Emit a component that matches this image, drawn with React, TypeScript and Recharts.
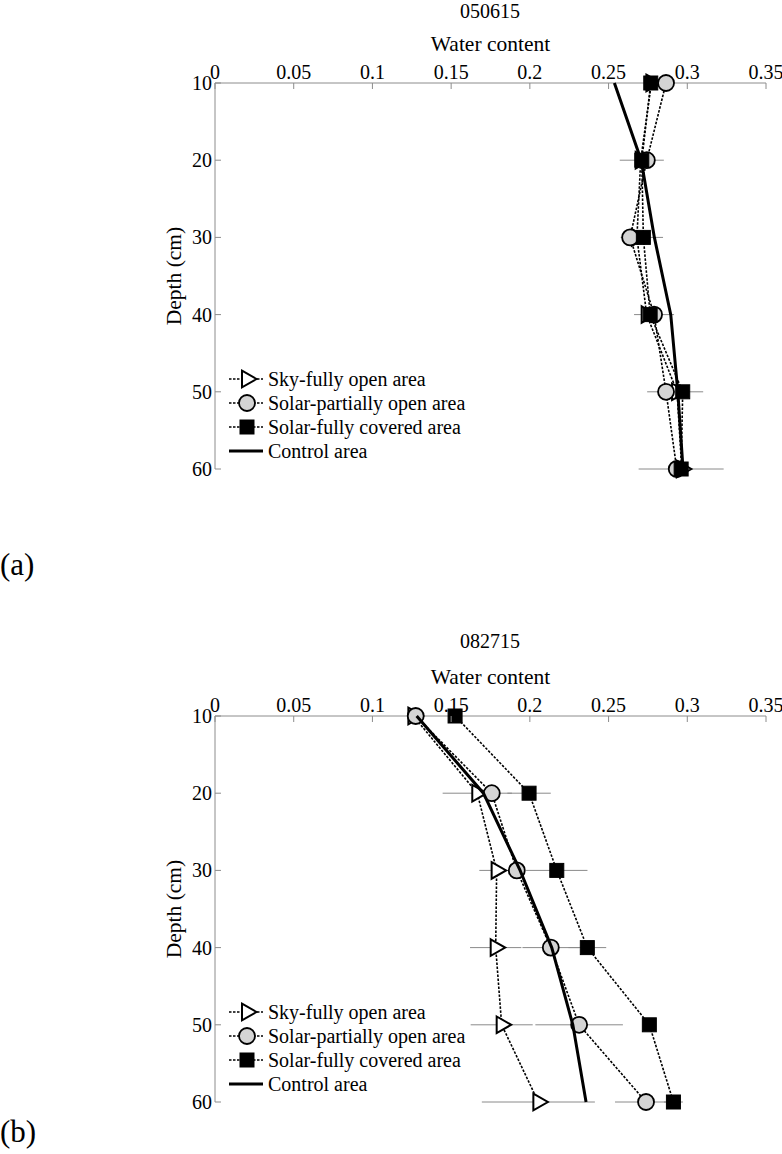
import React from 'react';
import { ScatterChart, Scatter, XAxis, YAxis, ErrorBar, Legend } from 'recharts';

const FONT = '"Liberation Serif", "Times New Roman", serif';
const AXIS_GRAY = '#8c8c8c';
const ERR_GRAY = '#8a8a8a';
const DASH = '2.5 1.5';

// Categories / ticks
const depths = [10, 20, 30, 40, 50, 60];
const xTicks = [0, 0.05, 0.1, 0.15, 0.2, 0.25, 0.3, 0.35];
const xTickLabels = ['0', '0.05', '0.1', '0.15', '0.2', '0.25', '0.3', '0.35'];
const yTicks = [10, 20, 30, 40, 50, 60];
const yTickLabels = ['10', '20', '30', '40', '50', '60'];

// Panel (a) 050615
const skyA = [0.2772, 0.2704, 0.268, 0.2742, 0.2935, 0.2965];
const skyErrA = [0, 0, 0, 0, 0, 0];
const partA = [0.2865, 0.2743, 0.2637, 0.2789, 0.2865, 0.2933];
const partErrA = [0, 0, 0.006, 0.0127, 0.012, 0];
const coverA = [0.2768, 0.2711, 0.2721, 0.2764, 0.2971, 0.2961];
const coverErrA = [0, 0.014, 0.0125, 0, 0.013, 0.027];
const controlA = [0.2537, 0.2707, 0.2791, 0.2895, 0.294, 0.2973];

// Panel (b) 082715
const skyB = [0.126, 0.1666, 0.1789, 0.1783, 0.1821, 0.2054];
const skyErrB = [0, 0.022, 0.011, 0.0163, 0.0197, 0.0359];
const partB = [0.1275, 0.1758, 0.1917, 0.2133, 0.2313, 0.2738];
const partErrB = [0, 0, 0, 0.018, 0.0278, 0.0197];
const coverB = [0.1525, 0.1995, 0.2171, 0.2365, 0.2759, 0.2912];
const coverErrB = [0, 0.0138, 0.0195, 0.012, 0, 0.006];
const controlB = [0.1281, 0.1705, 0.1938, 0.2139, 0.2273, 0.2357];

const legendLabels = [
  'Sky-fully open area',
  'Solar-partially open area',
  'Solar-fully covered area',
  'Control area',
];

function makeData(vals: number[], errs?: number[]) {
  return depths.map((d, i) => ({ d, v: vals[i], e: errs ? errs[i] : 0 }));
}

const TriangleShape = (p: any) => {
  const { cx, cy } = p;
  if (cx == null || cy == null) return <g />;
  const pts = `${cx - 5},${cy - 8.3} ${cx + 9.5},${cy} ${cx - 5},${cy + 8.3}`;
  return <polygon points={pts} fill="#fff" stroke="#000" strokeWidth={2} />;
};

const CircleShape = (p: any) => {
  const { cx, cy } = p;
  if (cx == null || cy == null) return <g />;
  return <circle cx={cx} cy={cy} r={8} fill="#d4d4d4" stroke="#000" strokeWidth={1.8} />;
};

const SquareShape = (p: any) => {
  const { cx, cy } = p;
  if (cx == null || cy == null) return <g />;
  return <rect x={cx - 7} y={cy - 7} width={14} height={14} fill="#000" stroke="#000" strokeWidth={1} />;
};

const EmptyShape = () => <g />;

const XTick = (props: any) => {
  const { x, y, payload } = props;
  const idx = xTicks.indexOf(payload.value);
  const label = idx >= 0 ? xTickLabels[idx] : String(payload.value);
  return (
    <g>
      <line x1={x} y1={y} x2={x} y2={y + 6} stroke={AXIS_GRAY} strokeWidth={1} />
      <text x={x} y={y - 4} textAnchor="middle" fontFamily={FONT} fontSize={20} fill="#000">
        {label}
      </text>
    </g>
  );
};

const YTick = (props: any) => {
  const { x, y, payload } = props;
  const idx = yTicks.indexOf(payload.value);
  const label = idx >= 0 ? yTickLabels[idx] : String(payload.value);
  return (
    <g>
      <line x1={x} y1={y} x2={x + 6} y2={y} stroke={AXIS_GRAY} strokeWidth={1} />
      <text x={x - 3} y={y} dy={7} textAnchor="end" fontFamily={FONT} fontSize={20} fill="#000">
        {label}
      </text>
    </g>
  );
};

const LegendContent = () => {
  const kinds = ['tri', 'circ', 'sq', 'line'];
  return (
    <div style={{ fontFamily: FONT, fontSize: 20, color: '#000' }}>
      {legendLabels.map((label, i) => (
        <div key={label} style={{ display: 'flex', alignItems: 'center', height: 24, whiteSpace: 'nowrap' }}>
          <svg width={40} height={24} style={{ display: 'block', flex: 'none' }}>
            {kinds[i] === 'line' ? (
              <line x1={2} y1={12} x2={36} y2={12} stroke="#000" strokeWidth={3} />
            ) : (
              <line x1={2} y1={12} x2={36} y2={12} stroke="#000" strokeWidth={1.6} strokeDasharray={DASH} />
            )}
            {kinds[i] === 'tri' && <TriangleShape cx={20} cy={12} />}
            {kinds[i] === 'circ' && <CircleShape cx={20} cy={12} />}
            {kinds[i] === 'sq' && <SquareShape cx={20} cy={12} />}
          </svg>
          <span style={{ marginLeft: 1, lineHeight: '24px' }}>{label}</span>
        </div>
      ))}
    </div>
  );
};

type PanelProps = {
  sky: number[]; skyErr: number[];
  part: number[]; partErr: number[];
  cover: number[]; coverErr: number[];
  control: number[];
};

function Panel({ sky, skyErr, part, partErr, cover, coverErr, control }: PanelProps) {
  const skyData = makeData(sky, skyErr);
  const partData = makeData(part, partErr);
  const coverData = makeData(cover, coverErr);
  const controlData = makeData(control);
  const lineStyle = { stroke: '#000', strokeWidth: 1.6, strokeDasharray: DASH };
  return (
    <ScatterChart width={782} height={500} margin={{ top: 56, right: 16, bottom: 31, left: 155 }}>
      <XAxis
        type="number"
        dataKey="v"
        orientation="top"
        domain={[0, 0.35]}
        ticks={xTicks}
        interval={0}
        height={27}
        tickSize={0}
        tickMargin={0}
        tickLine={false}
        axisLine={{ stroke: AXIS_GRAY, strokeWidth: 1 }}
        tick={(p: any) => <XTick {...p} />}
        label={{ value: 'Water content', position: 'top', offset: 5, fill: '#000', fontSize: 21.5, fontFamily: FONT }}
      />
      <YAxis
        type="number"
        dataKey="d"
        domain={[10, 60]}
        ticks={yTicks}
        reversed
        interval={0}
        width={60}
        tickSize={0}
        tickMargin={0}
        tickLine={false}
        axisLine={{ stroke: AXIS_GRAY, strokeWidth: 1 }}
        tick={(p: any) => <YTick {...p} />}
        label={{
          value: 'Depth (cm)', angle: -90, position: 'insideLeft', offset: 18,
          fill: '#000', fontSize: 21.5, fontFamily: FONT, style: { textAnchor: 'middle' },
        }}
      />
      <Scatter data={skyData} shape={EmptyShape} isAnimationActive={false} legendType="none">
        <ErrorBar dataKey="e" direction="x" width={0} stroke={ERR_GRAY} strokeWidth={1} />
      </Scatter>
      <Scatter data={partData} shape={EmptyShape} isAnimationActive={false} legendType="none">
        <ErrorBar dataKey="e" direction="x" width={0} stroke={ERR_GRAY} strokeWidth={1} />
      </Scatter>
      <Scatter data={coverData} shape={EmptyShape} isAnimationActive={false} legendType="none">
        <ErrorBar dataKey="e" direction="x" width={0} stroke={ERR_GRAY} strokeWidth={1} />
      </Scatter>
      <Scatter
        data={skyData}
        shape={(p: any) => <TriangleShape {...p} />}
        line={lineStyle}
        lineType="joint"
        isAnimationActive={false}
        legendType="none"
      />
      <Scatter
        data={partData}
        shape={(p: any) => <CircleShape {...p} />}
        line={lineStyle}
        lineType="joint"
        isAnimationActive={false}
        legendType="none"
      />
      <Scatter
        data={coverData}
        shape={(p: any) => <SquareShape {...p} />}
        line={lineStyle}
        lineType="joint"
        isAnimationActive={false}
        legendType="none"
      />
      <Scatter
        data={controlData}
        shape={EmptyShape}
        line={{ stroke: '#000', strokeWidth: 3 }}
        lineType="joint"
        isAnimationActive={false}
        legendType="none"
      />
      <Legend
        layout="vertical"
        align="center"
        verticalAlign="middle"
        content={() => <LegendContent />}
        wrapperStyle={{ left: 227, top: 367, width: 'auto', height: 'auto' }}
      />
    </ScatterChart>
  );
}

export default function App() {
  return (
    <div style={{ position: 'absolute', left: 0, top: 0, width: 782, height: 1154, background: '#fff', overflow: 'hidden' }}>
      <div style={{ position: 'absolute', left: 0, top: 0 }}>
        <Panel sky={skyA} skyErr={skyErrA} part={partA} partErr={partErrA} cover={coverA} coverErr={coverErrA} control={controlA} />
      </div>
      <div style={{ position: 'absolute', left: 0, top: 633 }}>
        <Panel sky={skyB} skyErr={skyErrB} part={partB} partErr={partErrB} cover={coverB} coverErr={coverErrB} control={controlB} />
      </div>
      <svg width={782} height={1154} style={{ position: 'absolute', left: 0, top: 0, pointerEvents: 'none' }}>
        <text x={490} y={18} textAnchor="middle" fontFamily={FONT} fontSize={20} fill="#000">050615</text>
        <text x={490} y={648} textAnchor="middle" fontFamily={FONT} fontSize={20} fill="#000">082715</text>
        <text x={0} y={575} fontFamily={FONT} fontSize={31} fill="#000">(a)</text>
        <text x={0} y={1142} fontFamily={FONT} fontSize={31} fill="#000">(b)</text>
      </svg>
    </div>
  );
}
